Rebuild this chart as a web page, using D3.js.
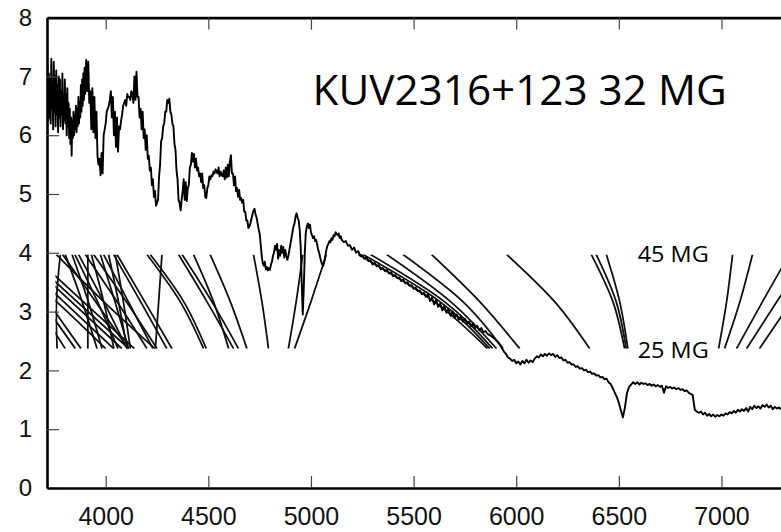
<!DOCTYPE html>
<html>
<head>
<meta charset="utf-8">
<script src="https://cdn.jsdelivr.net/npm/d3@7"></script>
<style>
body { margin: 0; background: #fff; }
svg { display: block; }
</style>
</head>
<body>
<div id="chart"></div>
<script>
// spectrum of KUV2316+123, [wavelength (A), flux]
const specBlue = [
  [3714,7.55],[3717,6.80],[3720,6.25],[3723,7.05],[3726,6.30],[3729,6.95],[3732,6.20],[3735,7.30],
  [3738,6.45],[3741,6.90],[3744,6.10],[3747,7.25],[3750,6.40],[3753,7.00],[3756,6.15],[3759,7.10],
  [3762,6.35],[3765,6.85],[3768,6.05],[3771,7.00],[3774,6.30],[3777,6.95],[3780,6.15],[3783,6.75],
  [3786,6.35],[3789,7.05],[3792,6.10],[3795,6.70],[3798,6.25],[3801,6.95],[3804,6.20],[3807,6.70],
  [3810,6.00],[3813,6.80],[3816,6.15],[3819,6.55],[3822,5.95],[3825,6.45],[3828,5.85],[3831,6.30],
  [3834,5.65],[3837,6.25],[3840,5.95],[3843,6.40],[3846,6.00],[3849,6.35],[3852,6.10],[3855,6.50],
  [3858,6.05],[3861,6.45],[3864,6.15],[3867,6.65],[3870,6.20],[3873,6.55],[3876,6.30],[3879,6.85],
  [3882,6.40],[3885,6.95],[3888,6.50],[3891,7.05],[3894,6.60],[3897,7.15],[3900,6.70]
];
const specHeII = [
  [3905,7.28],[3910,6.75],[3915,7.25],[3920,6.55],[3925,6.75],[3930,6.10],[3935,6.80],[3940,6.05],
  [3945,6.65],[3950,5.95],[3955,6.40],[3960,5.65],[3965,5.50],[3970,5.60],[3975,5.32],[3980,5.70],
  [3985,5.35],[3990,6.00],[3995,6.10],[4000,6.20],[4005,6.40],[4010,6.45],[4015,6.50],[4020,6.60],
  [4025,6.75],[4030,6.30],[4035,6.65],[4040,6.00],[4045,6.40],[4050,5.80],[4055,6.30],[4060,5.72],
  [4065,6.15],[4070,6.10],[4075,6.25],[4080,6.35],[4085,6.50],[4090,6.55],[4095,6.60],[4100,6.50],
  [4105,6.70],[4110,6.65],[4115,6.65],[4120,6.60],[4125,6.75],[4130,6.70],[4135,6.55],[4140,7.00],
  [4145,6.60],[4150,7.08],[4155,6.65],[4160,6.65],[4165,6.30],[4170,6.45],[4175,6.10],[4180,6.40],
  [4185,5.95],[4190,6.10],[4195,5.75],[4200,6.00],[4205,5.60],[4210,5.65],[4215,5.40],[4220,5.45],
  [4225,5.15],[4230,5.25],[4235,4.95],[4240,5.05],[4245,4.80],[4250,4.85],[4255,4.90],[4260,5.30],
  [4265,5.50],[4270,5.90],[4275,5.95],[4280,6.15],[4285,6.20],[4290,6.40],[4295,6.40],[4300,6.60],
  [4305,6.55],[4310,6.62],[4315,6.40],[4320,6.35],[4325,6.20],[4330,6.15],[4335,5.85],[4340,5.75],
  [4345,5.40],[4350,5.25],[4355,4.90],[4360,4.85],[4365,4.72],[4370,4.90],[4375,5.05],[4380,5.25],
  [4385,4.90],[4390,5.20],[4395,4.88],[4400,5.10],[4405,5.15],[4410,5.45],[4415,5.50],[4420,5.70],
  [4425,5.55],[4430,5.68],[4435,5.45],[4440,5.60],[4445,5.40],[4450,5.45],[4455,5.30],[4460,5.35],
  [4465,5.20],[4470,5.35],[4475,5.10],[4480,5.15],[4485,4.95],[4490,4.93],[4495,5.10],[4500,5.15],
  [4505,5.30],[4510,5.25],[4515,5.32],[4520,5.30],[4525,5.38],[4530,5.35],[4535,5.42],[4540,5.38],
  [4545,5.35],[4550,5.45],[4555,5.30],[4560,5.38],[4565,5.32],[4570,5.30],[4575,5.40],[4580,5.25],
  [4585,5.45],[4590,5.28],[4595,5.50],[4600,5.30],[4605,5.55],[4610,5.66],[4615,5.35],[4620,5.35],
  [4625,5.15],[4630,5.30],[4635,5.05],[4640,5.10],[4645,4.95],[4650,5.07],[4655,4.90],[4660,4.93],
  [4665,4.85],[4670,4.90],[4675,4.70],[4680,4.70],[4685,4.55],[4690,4.55],[4695,4.42],[4700,4.45]
];
const specGreen = [
  [4705,4.50],[4710,4.58],[4715,4.65],[4720,4.72],[4725,4.75],[4730,4.65],[4735,4.60],[4740,4.50],
  [4745,4.40],[4750,4.33],[4755,4.15],[4760,3.95],[4765,3.82],[4770,3.78],[4775,3.85],[4780,3.72],
  [4785,3.76],[4790,3.70],[4795,3.74],[4800,3.71],[4805,3.80],[4810,3.85],[4815,3.95],[4820,4.00],
  [4825,4.12],[4830,4.05],[4835,4.15],[4840,3.90],[4845,4.05],[4850,3.95],[4855,4.12],[4860,4.00],
  [4865,4.10],[4870,3.92],[4875,4.05],[4880,3.95],[4885,3.88],[4890,3.95],[4895,4.05],[4900,4.15],
  [4905,4.25],[4910,4.35],[4915,4.45],[4920,4.50],[4925,4.62],[4930,4.67],[4935,4.60],[4940,4.55],
  [4945,4.40],[4950,4.10],[4955,3.50],[4960,2.95],[4965,3.40],[4970,4.00],[4975,4.35],[4980,4.45],
  [4985,4.50],[4990,4.42],[4995,4.48],[5000,4.35],[5005,4.30],[5010,4.25],[5015,4.28],[5020,4.20],
  [5025,4.22],[5030,4.15],[5035,4.05],[5040,4.00],[5045,3.92],[5050,3.85],[5055,3.80],[5060,3.78],
  [5065,3.85],[5070,3.95],[5075,4.05],[5080,4.12],[5085,4.15],[5090,4.20],[5095,4.18],[5100,4.25],
  [5105,4.22],[5110,4.30],[5115,4.28],[5120,4.35],[5125,4.32],[5130,4.30],[5135,4.33],[5140,4.25],
  [5145,4.28],[5150,4.22]
];
const specYellow = [
  [5160,4.18],[5170,4.20],[5180,4.12],[5190,4.13],[5200,4.05],[5210,4.09],[5220,4.00],[5230,4.03],
  [5240,3.95],[5250,3.96],[5260,3.90],[5270,3.93],[5280,3.86],[5290,3.87],[5300,3.80],[5310,3.83],
  [5320,3.77],[5330,3.79],[5340,3.72],[5350,3.74],[5360,3.69],[5370,3.71],[5380,3.65],[5390,3.67],
  [5400,3.60],[5410,3.62],[5420,3.57],[5430,3.58],[5440,3.52],[5450,3.54],[5460,3.48],[5470,3.50],
  [5480,3.44],[5490,3.45],[5500,3.39],[5510,3.41],[5520,3.35],[5530,3.36],[5540,3.30],[5550,3.32],
  [5560,3.25],[5570,3.30],[5580,3.18],[5590,3.24],[5600,3.12],[5610,3.20],[5620,3.08],[5630,3.14],
  [5640,3.02],[5650,3.10],[5660,2.98],[5670,3.05],[5680,2.93],[5690,3.00],[5700,2.90],[5710,2.95],
  [5720,2.86],[5730,2.92],[5740,2.83],[5750,2.88],[5760,2.79],[5770,2.83],[5780,2.75],[5790,2.80],
  [5800,2.72],[5810,2.76],[5820,2.68],[5830,2.72],[5840,2.65],[5850,2.67],[5860,2.62],[5870,2.60],
  [5880,2.58],[5890,2.55],[5900,2.52],[5910,2.48],[5920,2.44],[5930,2.38],[5940,2.32],[5950,2.28],
  [5960,2.22],[5970,2.20],[5980,2.16],[5990,2.18],[6000,2.12]
];
const specRed = [
  [6010,2.15],[6020,2.10],[6030,2.16],[6040,2.12],[6050,2.18],[6060,2.13],[6070,2.17],[6080,2.14],
  [6090,2.20],[6100,2.24],[6110,2.22],[6120,2.27],[6130,2.24],[6140,2.28],[6150,2.25],[6160,2.29],
  [6170,2.26],[6180,2.28],[6190,2.23],[6200,2.26],[6210,2.21],[6220,2.22],[6230,2.17],[6240,2.18],
  [6250,2.13],[6260,2.14],[6270,2.10],[6280,2.10],[6290,2.06],[6300,2.07],[6310,2.03],[6320,2.04],
  [6330,2.00],[6340,2.01],[6350,1.97],[6360,1.98],[6370,1.94],[6380,1.95],[6390,1.91],[6400,1.92],
  [6410,1.88],[6420,1.89],[6430,1.85],[6440,1.86],[6450,1.80],[6460,1.77],[6470,1.70],[6480,1.62],
  [6490,1.55],[6500,1.45],[6510,1.32],[6520,1.20],[6530,1.38],[6540,1.62],[6550,1.72],[6560,1.76],
  [6570,1.80],[6580,1.77],[6590,1.80],[6600,1.76],[6610,1.79],[6620,1.77],[6630,1.78],[6640,1.75],
  [6650,1.77],[6660,1.74],[6670,1.76],[6680,1.73],[6690,1.75],[6700,1.72],[6710,1.74],[6720,1.62],
  [6730,1.73],[6740,1.70],[6750,1.72],[6760,1.69],[6770,1.71],[6780,1.68],[6790,1.70],[6800,1.67],
  [6810,1.68],[6820,1.65],[6830,1.66],[6840,1.62],[6850,1.60],[6860,1.58],[6870,1.33],[6880,1.30],
  [6890,1.28],[6900,1.30],[6910,1.25],[6920,1.28],[6930,1.23],[6940,1.26],[6950,1.22],[6960,1.25],
  [6970,1.21],[6980,1.24],[6990,1.22],[7000,1.25],[7010,1.23],[7020,1.27],[7030,1.25],[7040,1.29],
  [7050,1.27],[7060,1.31],[7070,1.28],[7080,1.33],[7090,1.30],[7100,1.34],[7110,1.31],[7120,1.36],
  [7130,1.30],[7140,1.38],[7150,1.34],[7160,1.40],[7170,1.36],[7180,1.39],[7190,1.35],[7200,1.41],
  [7210,1.38],[7220,1.42],[7230,1.37],[7240,1.40],[7250,1.34],[7260,1.38],[7270,1.35],[7280,1.37],
  [7290,1.34]
];

// field-wavelength curves of the inset: wavelength at each of fieldLevels (MG)
const fieldLevels = [45, 35, 25];
const fieldCurves = [
  [3609,3860,4112],[3584,3832,4079],[3553,3795,4039],[3529,3690,3852],[3553,3662,3803],
  [3500,3760,4000],[3580,3720,3880],[3640,3890,4140],[3760,3990,4240],[3790,3950,4110],
  [3850,3960,4060],[3930,3990,4040],[3990,4110,4230],[4039,4170,4298],[4055,4190,4323],
  [3779,3760,3763],[3803,3885,3958],[3836,3915,3982],[3868,3990,4104],[3913,3913,3913],
  [3901,4055,4201],[3941,4100,4250],[3974,4045,4112],[4014,4062,4104],[4047,4086,4120],
  [4201,4363,4477],[4217,4380,4490],[4274,4258,4242],[4355,4493,4623],[4372,4517,4647],
  [4428,4525,4599],[4509,4607,4688],[4720,4761,4793],[4960,4928,4890],[5075,5000,4920],
  [5230,5600,5860],[5254,5628,5871],[5290,5650,5885],[5369,5680,5904],[5449,5740,5936],
  [5588,5822,6017],[5954,6187,6358],[6366,6471,6528],[6390,6487,6536],[6439,6504,6544],
  [7054,7025,6986],[7151,7090,7015],[7330,7200,7073],[7420,7270,7122],[7500,7340,7185]
];

const xTicks = [4000, 4500, 5000, 5500, 6000, 6500, 7000];
const yTicks = [0, 1, 2, 3, 4, 5, 6, 7, 8];

const width = 781;
const height = 532;

const svg = d3.select('#chart')
    .append('svg')
    .attr('width', width)
    .attr('height', height);

const x = d3.scaleLinear().domain([3714, 7290]).range([47, 781]);
const y = d3.scaleLinear().domain([0, 8]).range([488, 17.6]);
// inset spans 25..45 MG between flux 2.37 and 3.97
const yField = d3.scaleLinear().domain([25, 45]).range([y(2.37), y(3.97)]);

svg.append('clipPath')
    .attr('id', 'inset-clip')
    .append('rect')
    .attr('x', x(3755))
    .attr('y', yField(45))
    .attr('width', width - x(3755))
    .attr('height', yField(25) - yField(45));

svg.append('clipPath')
    .attr('id', 'plot-clip')
    .append('rect')
    .attr('x', x(3714))
    .attr('y', y(8))
    .attr('width', width - x(3714))
    .attr('height', y(0) - y(8));

const fieldLine = d3.line()
    .x(d => x(d[0]))
    .y(d => yField(d[1]))
    .curve(d3.curveNatural);

svg.append('g')
    .attr('class', 'field-curves')
    .attr('clip-path', 'url(#inset-clip)')
    .selectAll('path')
    .data(fieldCurves)
    .enter()
    .append('path')
    .attr('d', c => fieldLine(c.map((w, i) => [w, fieldLevels[i]])))
    .attr('fill', 'none')
    .attr('stroke', '#111')
    .attr('stroke-width', 1.8);

const spectrum = [].concat(specBlue, specHeII, specGreen, specYellow, specRed);

const specLine = d3.line()
    .x(d => x(d[0]))
    .y(d => y(d[1]));

svg.append('path')
    .datum(spectrum)
    .attr('clip-path', 'url(#plot-clip)')
    .attr('d', specLine)
    .attr('fill', 'none')
    .attr('stroke', '#000')
    .attr('stroke-width', 1.9)
    .attr('stroke-linejoin', 'round');

// axes, ticks point inward
const yAxis = svg.append('g')
    .attr('transform', `translate(${x(3714)},0)`)
    .call(d3.axisLeft(y).tickValues(yTicks).tickSizeInner(-12).tickSizeOuter(0).tickPadding(15));

const xAxis = svg.append('g')
    .attr('transform', `translate(0,${y(0)})`)
    .call(d3.axisBottom(x).tickValues(xTicks).tickFormat(d3.format('d'))
        .tickSizeInner(-12).tickSizeOuter(0).tickPadding(19));

const topAxis = svg.append('g')
    .attr('transform', `translate(0,${y(8)})`)
    .call(d3.axisTop(x).tickValues(xTicks).tickSizeInner(-12).tickSizeOuter(0).tickFormat(''));

[yAxis, xAxis, topAxis].forEach(g => {
    g.select('.domain').attr('stroke', '#000').attr('stroke-width', 2.6);
    g.selectAll('.tick line').attr('stroke', '#444').attr('stroke-width', 1.2);
});

yAxis.selectAll('.tick text')
    .attr('fill', '#111')
    .style('font-family', '"Liberation Sans", Arial, sans-serif')
    .style('font-size', '24px');

xAxis.selectAll('.tick text')
    .attr('fill', '#111')
    .style('font-family', '"Liberation Sans", Arial, sans-serif')
    .style('font-size', '25px');

svg.append('text')
    .attr('x', x(5008))
    .attr('y', y(6.51))
    .attr('textLength', 414)
    .attr('lengthAdjust', 'spacingAndGlyphs')
    .style('font-family', '"Open Sans", sans-serif')
    .style('font-size', '42px')
    .attr('fill', '#000')
    .text('KUV2316+123 32 MG');

svg.append('text')
    .attr('x', x(6592))
    .attr('y', y(3.84))
    .attr('textLength', 71)
    .attr('lengthAdjust', 'spacingAndGlyphs')
    .style('font-family', '"Open Sans", sans-serif')
    .style('font-size', '22px')
    .attr('fill', '#000')
    .text('45 MG');

svg.append('text')
    .attr('x', x(6592))
    .attr('y', y(2.21))
    .attr('textLength', 71)
    .attr('lengthAdjust', 'spacingAndGlyphs')
    .style('font-family', '"Open Sans", sans-serif')
    .style('font-size', '22px')
    .attr('fill', '#000')
    .text('25 MG');
</script>
</body>
</html>
